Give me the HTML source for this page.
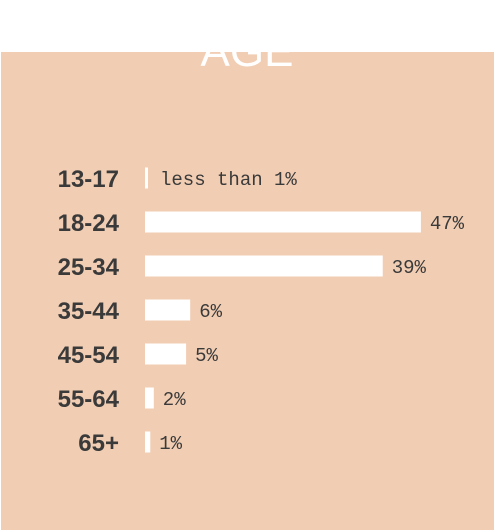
<!DOCTYPE html>
<html><head><meta charset="utf-8"><style>
html,body{margin:0;padding:0;background:#fff;width:494px;height:530px;overflow:hidden}
#panel{position:absolute;left:1px;top:52px;width:493px;height:478px;background:#f1cdb3}
svg{position:absolute;left:0;top:0}
.lab{font:bold 24px "Liberation Sans",sans-serif;fill:#3a3a3a}
.val{font:19px "Liberation Mono",monospace;fill:#3a3a3a}
.ttl{font:44px "Liberation Sans",sans-serif;fill:#fff}
</style></head><body>
<div id="panel"></div>
<svg id="chart" width="494" height="530">
<text x="247" y="66" text-anchor="middle" class="ttl">AGE</text>
</svg>
<script>
const categories=["13-17","18-24","25-34","35-44","45-54","55-64","65+"];
const values=[0.5,47,40.5,7.7,7,1.5,0.9];
const valueLabels=["less than 1%","47%","39%","6%","5%","2%","1%"];
const svg=document.getElementById('chart');
const NS='http://www.w3.org/2000/svg';
const x0=145, pxPer=5.87, y0=178, step=44, bh=21;
const xs=v=>v*pxPer;
const yc=i=>y0+i*step;
categories.forEach((c,i)=>{
  const t=document.createElementNS(NS,'text');
  t.setAttribute('x',119);t.setAttribute('y',yc(i)+9);t.setAttribute('text-anchor','end');
  t.setAttribute('class','lab');t.textContent=c;
  
  
  svg.appendChild(t);
  const w=Math.max(3,xs(values[i]));
  const r=document.createElementNS(NS,'rect');
  r.setAttribute('x',x0);r.setAttribute('y',yc(i)-bh/2);r.setAttribute('width',w);r.setAttribute('height',bh);r.setAttribute('fill','#fff');
  
  
  svg.appendChild(r);
  const v=document.createElementNS(NS,'text');
  v.setAttribute('x',x0+w+(i===0?12:9));v.setAttribute('y',yc(i)+7);v.setAttribute('class','val');v.textContent=valueLabels[i];
  
  
  svg.appendChild(v);
});
</script>
</body></html>
